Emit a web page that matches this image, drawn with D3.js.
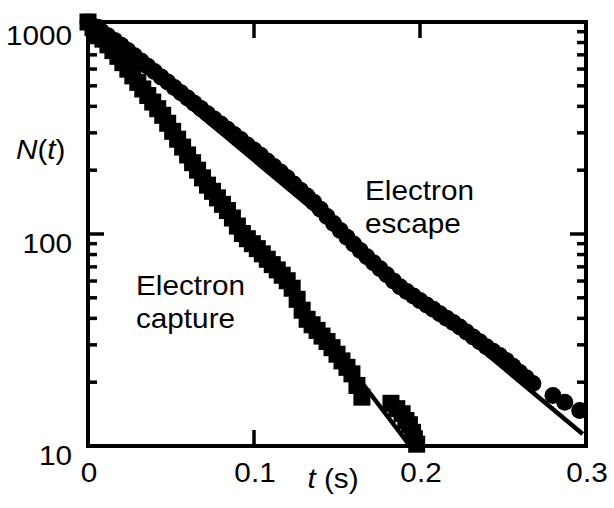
<!DOCTYPE html>
<html>
<head>
<meta charset="utf-8">
<script src="https://cdn.jsdelivr.net/npm/d3@7"></script>
<style>
  html, body { margin: 0; padding: 0; background: #fff; }
  svg { display: block; }
  text { font-family: "Liberation Sans", Arial, sans-serif; fill: #000; }
</style>
</head>
<body>
<svg id="chart" width="614" height="508"></svg>
<script>
// ---- data (t in s, N) ----
const escapeData = [
  [0.000,1000],[0.004,951],[0.008,905],[0.012,861],[0.016,819],[0.020,777],[0.024,734],[0.028,693],
  [0.032,654],[0.036,618],[0.040,584],[0.044,551],[0.048,521],[0.052,491],[0.056,464],[0.060,438],
  [0.064,414],[0.068,391],[0.072,369],[0.076,349],[0.080,330],[0.084,312],[0.088,295],[0.092,279],
  [0.096,263],[0.100,249],[0.104,235],[0.108,221],[0.112,208],[0.116,196],[0.120,184],[0.124,172],
  [0.128,161],[0.132,151],[0.136,141],[0.140,131],[0.144,121],[0.148,112],[0.152,104],[0.156,96.5],
  [0.160,89.7],[0.164,83.6],[0.168,78.2],[0.172,73.2],[0.176,68.6],[0.180,64.2],[0.184,60.1],[0.188,56.4],
  [0.192,53.6],[0.196,51.0],[0.200,48.5],[0.204,46.3],[0.208,44.2],[0.212,42.1],[0.216,40.1],[0.220,38.2],
  [0.224,36.4],[0.228,34.5],[0.232,32.7],[0.236,31.0],[0.240,29.4],[0.244,28.0],[0.248,26.7],[0.252,25.3],
  [0.256,23.8],[0.260,22.3],[0.264,21.0],[0.268,19.7],[0.2801,17.3],[0.2872,16.1],[0.2962,14.7]
];
const captureData = [
  [0.000,1000],[0.003,940],[0.006,883],[0.009,830],[0.012,780],[0.015,733],[0.018,689],[0.021,643],
  [0.024,599],[0.027,557],[0.030,519],[0.033,483],[0.036,450],[0.039,419],[0.042,390],[0.045,363],
  [0.048,333],[0.051,305],[0.054,280],[0.057,257],[0.060,236],[0.063,217],[0.066,200],[0.069,184],
  [0.072,170],[0.075,159],[0.078,148],[0.081,138],[0.084,129],[0.087,119],[0.090,109],[0.093,100.5],
  [0.096,95.0],[0.099,90.0],[0.102,85.3],[0.105,80.6],[0.108,76.0],[0.111,71.7],[0.114,67.7],[0.117,63.9],
  [0.120,60.2],[0.123,55.5],[0.126,49.2],[0.129,43.7],[0.132,39.6],[0.135,37.3],[0.138,35.1],[0.141,33.0],
  [0.144,31.1],[0.147,29.1],[0.150,27.1],[0.153,25.2],[0.156,23.5],[0.159,21.9],[0.162,19.3],[0.165,17.0],
  [0.1825,15.9],[0.186,15.0],[0.1892,14.2],[0.1915,13.2],[0.1936,12.6],[0.1955,11.6],[0.1966,10.8],[0.198,10.2]
];
const escapeFit = [[0, 1000], [0.298, 11.4]];
const captureFit = [[0, 1000], [0.194, 10]];

const xTicks = [0, 0.1, 0.2, 0.3];
const xTickLabels = ["0", "0.1", "0.2", "0.3"];
const yMajor = [10, 100, 1000];
const yMajorLabels = ["10", "100", "1000"];
const yMinor = [20, 30, 40, 50, 60, 70, 80, 90, 200, 300, 400, 500, 600, 700, 800, 900];

// ---- layout ----
const L = 88, R = 586, T = 22, B = 446;
const svg = d3.select("#chart");
const x = d3.scaleLinear().domain([0, 0.3]).range([L, R]);
const y = d3.scaleLog().domain([10, 1000]).range([B, T]);

// markers
const sq = 17, rad = 8.5;
svg.append("g").selectAll("rect").data(captureData).join("rect")
  .attr("x", d => x(d[0]) - sq / 2).attr("y", d => y(d[1]) - sq / 2)
  .attr("width", sq).attr("height", sq).attr("fill", "#000");
svg.append("g").selectAll("circle").data(escapeData).join("circle")
  .attr("cx", d => x(d[0])).attr("cy", d => y(d[1])).attr("r", rad).attr("fill", "#000");

// fit lines
const line = d3.line().x(d => x(d[0])).y(d => y(d[1]));
[escapeFit, captureFit].forEach(f => svg.append("path").attr("d", line(f))
  .attr("fill", "none").attr("stroke", "#000").attr("stroke-width", 4.5));

// frame
svg.append("rect").attr("x", L).attr("y", T).attr("width", R - L).attr("height", B - T)
  .attr("fill", "none").attr("stroke", "#000").attr("stroke-width", 4);

// ticks (inward on all sides)
const tk = svg.append("g").attr("stroke", "#000").attr("stroke-width", 3.5);
const majorLen = 16, minorLen = 9;
yMinor.forEach(v => {
  tk.append("line").attr("x1", L).attr("x2", L + minorLen).attr("y1", y(v)).attr("y2", y(v));
  tk.append("line").attr("x1", R).attr("x2", R - minorLen).attr("y1", y(v)).attr("y2", y(v));
});
[100].forEach(v => {
  tk.append("line").attr("x1", L).attr("x2", L + majorLen).attr("y1", y(v)).attr("y2", y(v));
  tk.append("line").attr("x1", R).attr("x2", R - majorLen).attr("y1", y(v)).attr("y2", y(v));
});
[0.1, 0.2].forEach(v => {
  tk.append("line").attr("x1", x(v)).attr("x2", x(v)).attr("y1", B).attr("y2", B - majorLen);
  tk.append("line").attr("x1", x(v)).attr("x2", x(v)).attr("y1", T).attr("y2", T + majorLen);
});

// text helper: slightly wide face like the reference
const fs = 27, sx = 1.1;
function label(px, py, anchor) {
  return svg.append("text").attr("transform", `translate(${px},${py}) scale(${sx},1)`)
    .attr("text-anchor", anchor).attr("font-size", fs);
}
const yLabelBase = [465, 253, 45];
yMajor.forEach((v, i) => label(72, yLabelBase[i], "end").text(yMajorLabels[i]));
xTicks.forEach((v, i) => label(x(v) + 1, 482, "middle").text(xTickLabels[i]));

// axis titles
const xt = label(333, 488, "middle");
xt.append("tspan").attr("font-style", "italic").text("t");
xt.append("tspan").text(" (s)");
const yt = label(16, 159, "start");
yt.append("tspan").attr("font-style", "italic").text("N");
yt.append("tspan").text("(");
yt.append("tspan").attr("font-style", "italic").text("t");
yt.append("tspan").text(")");

// annotations
const ann = [
  {x: 365, y: 200, lines: ["Electron", "escape"]},
  {x: 136, y: 295, lines: ["Electron", "capture"]}
];
ann.forEach(a => a.lines.forEach((s, i) => label(a.x, a.y + i * 33, "start").text(s)));
</script>
</body>
</html>
